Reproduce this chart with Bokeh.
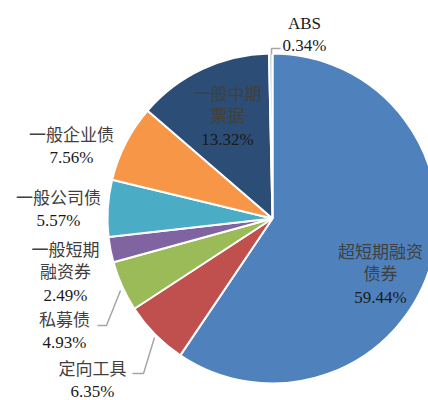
import math
from bokeh.plotting import figure
from bokeh.models import Range1d, ColumnDataSource
from bokeh.core.properties import value
from bokeh.embed import file_html
from bokeh.resources import INLINE

# ---- data ----
categories = ["超短期融资债券", "定向工具", "私募债", "一般短期融资券",
              "一般公司债", "一般企业债", "一般中期票据", "ABS"]
shares = [59.44, 6.35, 4.93, 2.49, 5.57, 7.56, 13.32, 0.34]
pct_labels = ["59.44%", "6.35%", "4.93%", "2.49%", "5.57%", "7.56%", "13.32%", "0.34%"]

# ---- style / layout ----
colors = ["#4F81BD", "#C0504D", "#9BBB59", "#8064A2",
          "#4BACC6", "#F79646", "#2C4D75", "#C9D3DE"]
W, H = 428, 400
cx, cy_px, R = 272, 218, 165
# label name lines (as displayed) and pixel anchors (center x, first line y)
name_lines = [["超短期融资", "债券"], ["定向工具"], ["私募债"], ["一般短期", "融资券"],
              ["一般公司债"], ["一般企业债"], ["一般中期", "票据"], ["ABS"]]
label_pos = [(380, 252), (92, 369), (64, 320), (65, 250),
             (58, 198), (71, 135), (227, 94), (304, 23)]
line_gap = 22.3
leaders = [
    None,
    [(154, 337), (143, 373), (132, 373)],
    [(120, 290), (106, 325), (97, 325)],
    None, None, None, None,
    [(271, 54), (271, 48), (280, 48)],
]

p = figure(width=W, height=H, output_backend="svg", toolbar_location=None,
           x_range=Range1d(0, W), y_range=Range1d(0, H), min_border=0,
           background_fill_color="white", border_fill_color="white")
p.axis.visible = False
p.grid.visible = False
p.outline_line_color = None

total = sum(shares)
starts, ends = [], []
cum = 0.0
for s in shares:
    starts.append(math.pi / 2 - 2 * math.pi * cum / total)
    cum += s
    ends.append(math.pi / 2 - 2 * math.pi * cum / total)

src = ColumnDataSource(dict(start=starts, end=ends, color=colors, cat=categories))
p.wedge(x=cx, y=H - cy_px, radius=R, start_angle="start", end_angle="end",
        direction="clock", fill_color="color", line_color="white", line_width=2,
        source=src)

for ld in leaders:
    if ld:
        p.line([q[0] for q in ld], [H - q[1] for q in ld], line_color="#A6A6A6",
               line_width=1.5)

font = value("'Liberation Serif', 'Noto Sans CJK SC'")
tx, ty, tt, tc = [], [], [], []
for names, pct, (lx, ly) in zip(name_lines, pct_labels, label_pos):
    lines = names + [pct]
    for i, ln in enumerate(lines):
        tx.append(lx)
        ty.append(H - (ly + i * line_gap))
        tt.append(ln)
        tc.append("#404040" if i < len(names) and ln != "ABS" else "#1a1a1a")

p.text(x=tx, y=ty, text=tt, text_color=tc, text_font=font,
       text_font_size="17px", text_align="center", text_baseline="middle")

open("out.html", "w").write(file_html(p, INLINE))
